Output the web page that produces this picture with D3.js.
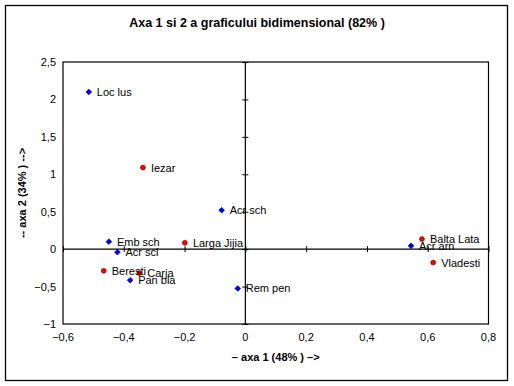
<!DOCTYPE html>
<html>
<head>
<meta charset="utf-8">
<script src="https://cdn.jsdelivr.net/npm/d3@7"></script>
<style>
  body { margin: 0; background: #fff; }
  svg { display: block; font-family: Arial, "Liberation Sans", sans-serif; }
</style>
</head>
<body>
<svg id="chart" width="514" height="386"></svg>
<script>
// point names, coordinates on axis 1 and 2, and group (0 = species, 1 = sites)
const names = ["Loc lus", "Iezar", "Acr sch", "Emb sch", "Larga Jijia", "Acr scl", "Beresti", "Carja", "Pan bla", "Rem pen", "Balta Lata", "Acr arn", "Vladesti"];
const axa1 = [-0.515, -0.337, -0.078, -0.449, -0.199, -0.421, -0.466, -0.349, -0.379, -0.025, 0.581, 0.545, 0.618];
const axa2 = [2.10, 1.09, 0.52, 0.10, 0.085, -0.04, -0.29, -0.32, -0.415, -0.525, 0.134, 0.044, -0.18];
const groups = [0, 1, 0, 0, 1, 0, 1, 1, 0, 0, 1, 0, 1];

const xTicks = [-0.6, -0.4, -0.2, 0, 0.2, 0.4, 0.6, 0.8];
const yTicks = [-1, -0.5, 0, 0.5, 1, 1.5, 2, 2.5];

const title = "Axa 1 si 2 a graficului bidimensional (82% )";
const xTitle = "– axa 1 (48% ) –>";
const yTitle = "-- axa 2 (34% ) -->";

const svg = d3.select("#chart");
const pLeft = 63, pRight = 488.5, pTop = 62, pBottom = 324;

const x = d3.scaleLinear().domain([-0.6, 0.8]).range([pLeft, pRight]);
const y = d3.scaleLinear().domain([-1, 2.5]).range([pBottom, pTop]);
const fmt = d => d3.format("")(d).replace(".", ",");

// outer chart border
svg.append("rect")
  .attr("x", 5.5).attr("y", 5.5)
  .attr("width", 502).attr("height", 375)
  .attr("fill", "#fff").attr("stroke", "#000").attr("stroke-width", 1.3);

// plot area frame
svg.append("rect")
  .attr("x", pLeft).attr("y", pTop)
  .attr("width", pRight - pLeft).attr("height", pBottom - pTop)
  .attr("fill", "none").attr("stroke", "#000").attr("stroke-width", 1.2);

svg.append("text")
  .attr("x", 257).attr("y", 27)
  .attr("text-anchor", "middle")
  .style("font-size", "12.5px").style("font-weight", "bold")
  .text(title);

// axes crossing at zero
const xAxis = d3.axisBottom(x).tickValues(xTicks).tickSize(6).tickFormat("");
svg.append("g")
  .attr("transform", "translate(0," + (y(0) - 3) + ")")
  .call(xAxis)
  .call(g => g.select(".domain").remove())
  .call(g => g.selectAll("line").attr("stroke", "#000"));
svg.append("line")
  .attr("x1", pLeft).attr("x2", pRight)
  .attr("y1", y(0)).attr("y2", y(0))
  .attr("stroke", "#000").attr("stroke-width", 1.2);

const yAxis = d3.axisRight(y).tickValues(yTicks).tickSize(6).tickFormat("");
svg.append("g")
  .attr("transform", "translate(" + (x(0) - 3) + ",0)")
  .call(yAxis)
  .call(g => g.select(".domain").remove())
  .call(g => g.selectAll("line").attr("stroke", "#000"));
svg.append("line")
  .attr("x1", x(0)).attr("x2", x(0))
  .attr("y1", pTop).attr("y2", pBottom)
  .attr("stroke", "#000").attr("stroke-width", 1.2);

// tick labels along the frame
svg.append("g").selectAll("text")
  .data(xTicks).enter().append("text")
  .attr("x", d => x(d)).attr("y", pBottom + 17)
  .attr("text-anchor", "middle")
  .style("font-size", "11px")
  .text(fmt);

svg.append("g").selectAll("text")
  .data(yTicks).enter().append("text")
  .attr("x", pLeft - 7).attr("y", d => y(d) + 4)
  .attr("text-anchor", "end")
  .style("font-size", "11px")
  .text(fmt);

svg.append("text")
  .attr("x", (pLeft + pRight) / 2).attr("y", 361)
  .attr("text-anchor", "middle")
  .style("font-size", "11px").style("font-weight", "bold")
  .text(xTitle);

svg.append("text")
  .attr("transform", "translate(26," + 193 + ") rotate(-90)")
  .attr("text-anchor", "middle")
  .style("font-size", "11px").style("font-weight", "bold")
  .text(yTitle);

// points
const pts = names.map((n, i) => ({ name: n, a: axa1[i], b: axa2[i], g: groups[i] }));

svg.append("g").selectAll("path")
  .data(pts).enter().append("path")
  .attr("transform", d => "translate(" + x(d.a) + "," + y(d.b) + ")")
  .attr("d", d => d.g === 0
    ? d3.symbol().type(d3.symbolDiamond2).size(20)()
    : d3.symbol().type(d3.symbolCircle).size(18)())
  .attr("fill", d => d.g === 0 ? "#0000ff" : "#ff0000")
  .attr("stroke", d => d.g === 0 ? "#000080" : "#800000")
  .attr("stroke-width", 0.8);

svg.append("g").selectAll("text")
  .data(pts).enter().append("text")
  .attr("x", d => x(d.a) + 8).attr("y", d => y(d.b) + 4)
  .style("font-size", "11px")
  .text(d => d.name);
</script>
</body>
</html>
